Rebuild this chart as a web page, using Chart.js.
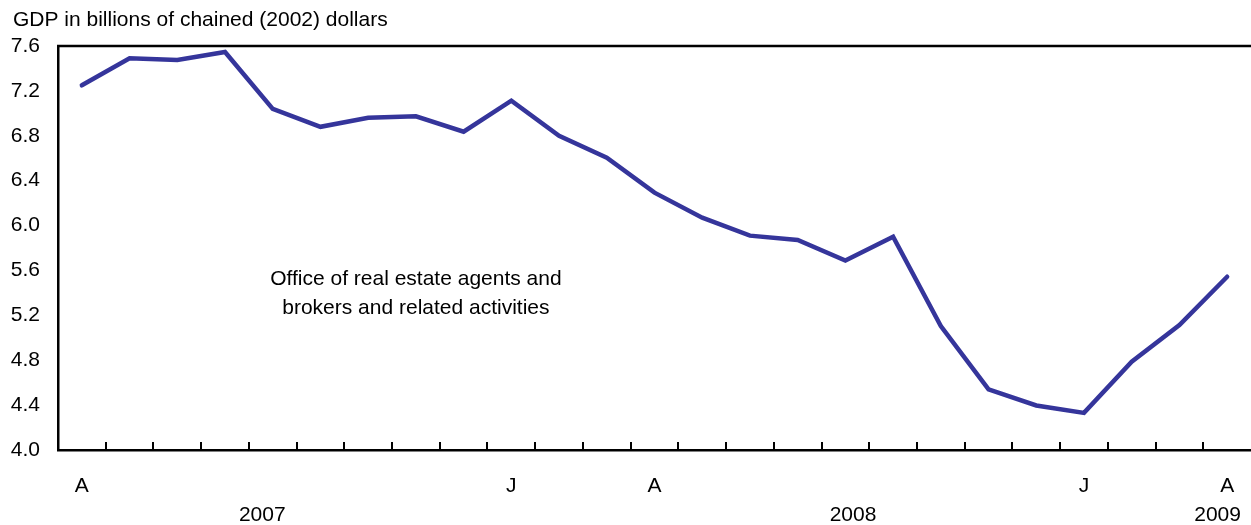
<!DOCTYPE html>
<html>
<head>
<meta charset="utf-8">
<script src="https://cdn.jsdelivr.net/npm/chart.js@4"></script>
<style>
  html, body { margin: 0; padding: 0; background: #fff; }
  #wrap { width: 1251px; height: 525px; position: relative; }
</style>
</head>
<body>
<div id="wrap"><canvas id="c" width="1251" height="525"></canvas></div>
<script>
// Monthly categories, April 2007 to April 2009
const months = ['Apr 2007','May 2007','Jun 2007','Jul 2007','Aug 2007','Sep 2007','Oct 2007','Nov 2007','Dec 2007',
  'Jan 2008','Feb 2008','Mar 2008','Apr 2008','May 2008','Jun 2008','Jul 2008','Aug 2008','Sep 2008','Oct 2008','Nov 2008','Dec 2008',
  'Jan 2009','Feb 2009','Mar 2009','Apr 2009'];
const monthTickLabels = ['A','','','','','','','','','J','','','A','','','','','','','','','J','','','A'];
const gdpValues = [7.25, 7.49, 7.475, 7.547, 7.04, 6.88, 6.96, 6.974, 6.836, 7.113, 6.80, 6.605,
  6.293, 6.07, 5.91, 5.871, 5.689, 5.90, 5.105, 4.54, 4.397, 4.331, 4.787, 5.114, 5.544];
const yearLabels = ['2007', '2008', '2009'];
const yTicks = [4.0, 4.4, 4.8, 5.2, 5.6, 6.0, 6.4, 6.8, 7.2, 7.6];
const titleText = 'GDP in billions of chained (2002) dollars';
const seriesLabel = ['Office of real estate agents and', 'brokers and related activities'];

const FONT = '"Liberation Sans", Arial, Helvetica, sans-serif';

const decor = {
  id: 'decor',
  afterDraw(chart) {
    const ctx = chart.ctx;
    const a = chart.chartArea;
    const xs = chart.scales.x;
    ctx.save();
    // top frame line
    ctx.strokeStyle = '#000';
    ctx.lineWidth = 2.5;
    ctx.beginPath();
    ctx.moveTo(a.left - 1, a.top);
    ctx.lineTo(a.right, a.top);
    ctx.stroke();
    // inward tick marks between months
    ctx.lineWidth = 2;
    for (let i = 0; i < months.length - 1; i++) {
      const px = Math.round((xs.getPixelForValue(i) + xs.getPixelForValue(i + 1)) / 2);
      ctx.beginPath();
      ctx.moveTo(px, a.bottom);
      ctx.lineTo(px, a.bottom - 8);
      ctx.stroke();
    }
    ctx.fillStyle = '#000';
    ctx.font = '21px ' + FONT;
    // title
    ctx.textAlign = 'left';
    ctx.textBaseline = 'alphabetic';
    ctx.fillText(titleText, 13, 26);
    // year labels
    ctx.textAlign = 'center';
    const yearPos = [3.78, 16.16, 23.8];
    yearLabels.forEach((t, k) => {
      ctx.fillText(t, xs.getPixelForValue(yearPos[k]), 521);
    });
    // series annotation
    const cx = xs.getPixelForValue(7);
    ctx.fillText(seriesLabel[0], cx, 285);
    ctx.fillText(seriesLabel[1], cx, 314);
    ctx.restore();
  }
};

new Chart(document.getElementById('c'), {
  type: 'line',
  data: {
    labels: months,
    datasets: [{
      data: gdpValues,
      borderColor: '#35359b',
      borderWidth: 4.5,
      pointRadius: 0,
      tension: 0,
      borderJoinStyle: 'miter',
      borderCapStyle: 'round',
      fill: false
    }]
  },
  options: {
    responsive: false,
    animation: false,
    devicePixelRatio: 1,
    layout: { padding: { top: 46, left: 0, right: 0, bottom: 0 } },
    plugins: { legend: { display: false }, tooltip: { enabled: false }, title: { display: false } },
    scales: {
      x: {
        type: 'category',
        offset: true,
        grid: { display: false, drawTicks: false, offset: true },
        border: { display: true, color: '#000', width: 2.5 },
        ticks: {
          autoSkip: false,
          maxRotation: 0,
          padding: 24,
          color: '#000',
          font: { size: 21, family: FONT },
          callback: (v, i) => monthTickLabels[i]
        },
        afterFit: s => { s.height = 75; s.paddingLeft = 0; s.paddingRight = 0; }
      },
      y: {
        min: 4.0,
        max: 7.6,
        afterBuildTicks: s => { s.ticks = yTicks.map(v => ({ value: v })); },
        grid: { display: false, drawTicks: false },
        border: { display: true, color: '#000', width: 2.5 },
        ticks: {
          padding: 18,
          color: '#000',
          font: { size: 21, family: FONT },
          callback: v => Number(v).toFixed(1)
        },
        afterFit: s => { s.width = 58; s.paddingTop = 0; s.paddingBottom = 0; }
      }
    }
  },
  plugins: [decor]
});
</script>
</body>
</html>
